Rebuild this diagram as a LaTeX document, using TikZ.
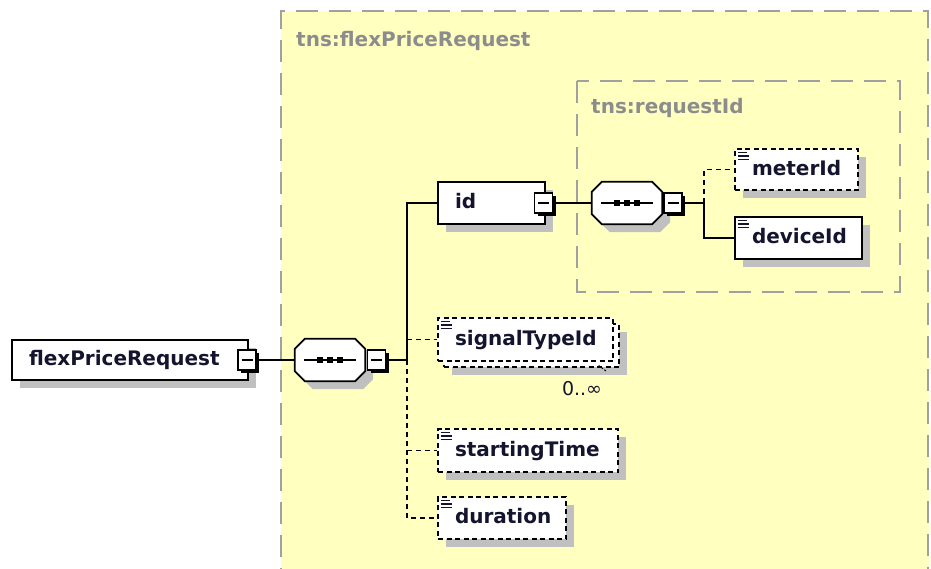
\documentclass[tikz,border=0pt]{standalone}
\usepackage{fontspec}
\setmainfont{DejaVu Sans}
\usetikzlibrary{shadows}
\definecolor{bgyellow}{HTML}{FFFFC0}
\definecolor{shadowgray}{HTML}{C0C0C0}
\definecolor{framegray}{HTML}{A0A0A0}
\definecolor{labelgray}{HTML}{8C8C8C}
\definecolor{inktext}{HTML}{14142E}
\tikzset{
  elembox/.style={draw=black, line width=1.8pt, fill=white, rectangle, inner xsep=17pt, inner ysep=0pt,
    align=left, text height=15pt, text depth=4pt, minimum height=42pt,
    font=\bfseries\fontsize{20}{24}\selectfont, text=inktext},
  boxshadow/.style={drop shadow={shadow xshift=8pt, shadow yshift=-8pt, fill=shadowgray, opacity=1}},
  optbox/.style={dash pattern=on 5pt off 3.5pt},
  minusbox/.style={draw=black, line width=1.6pt, fill=white, minimum width=18pt, minimum height=20pt, inner sep=0pt,
    drop shadow={shadow xshift=3pt, shadow yshift=-3pt, fill=black, opacity=1}},
  seqnode/.style={minimum width=70pt, minimum height=42pt, inner sep=0pt},
  conn/.style={line width=1.8pt, draw=black},
  optconn/.style={conn, dash pattern=on 5pt off 4pt},
  grouplabel/.style={inner sep=0pt, text=labelgray, font=\bfseries\fontsize{20}{24}\selectfont},
  cardlabel/.style={inner sep=0pt, text=inktext, font=\fontsize{19}{22}\selectfont},
  groupframe/.style={draw=framegray, line width=2.2pt, dash pattern=on 22pt off 11pt}
}
\newcommand\seqshape[1]{%
  \filldraw[fill=white, draw=black, line width=1.8pt,
    drop shadow={shadow xshift=8pt, shadow yshift=-8pt, fill=shadowgray, opacity=1}]
    ([xshift=10pt]#1.north west) -- ([xshift=-10pt]#1.north east) -- ([yshift=-10pt]#1.north east)
    -- ([yshift=10pt]#1.south east) -- ([xshift=-10pt]#1.south east) -- ([xshift=10pt]#1.south west)
    -- ([yshift=10pt]#1.south west) -- ([yshift=-10pt]#1.north west) -- cycle;
  \draw[line width=1.8pt] ([xshift=-26pt]#1.center) -- ([xshift=26pt]#1.center);
  \foreach \dd in {-10,0,10} {\fill ([xshift=\dd pt]#1.center) +(-2.8pt,-2.8pt) rectangle +(2.8pt,2.8pt);}
}
\newcommand\minusmark[1]{\draw[line width=1.6pt] ([xshift=-5.5pt]#1.center) -- ([xshift=5.5pt]#1.center);}
\newcommand\simpleicon[1]{%
  \foreach \yy/\ll in {4.5/9,8/11,11.5/11} {\draw[line width=1.5pt, inktext] ([xshift=3.5pt,yshift=-\yy pt]#1.north west) -- ++(\ll pt,0pt);}
}
\begin{document}
\begin{tikzpicture}[x=1pt,y=-1pt]
\useasboundingbox (0,0) rectangle (931,568);
\clip (0,0) rectangle (931,568);
\fill[white] (0,0) rectangle (931,568);
% outer group
\fill[bgyellow] (281,11) rectangle (929,590);
\draw[groupframe] (281,590) -- (281,11) -- (928,11) -- (928,590);
\node[grouplabel, anchor=west] (glabel) at (296,41) {tns:flexPriceRequest};
% inner group
\draw[groupframe] (577,81) rectangle (900,292);
\node[grouplabel, anchor=west] (rlabel) at (591,108) {tns:requestId};

% root
\node[elembox, boxshadow, minimum height=40pt, text width=202pt] (root) at (130,360) {flexPriceRequest};
\node[minusbox] (rootm) at (247,360) {};
\minusmark{rootm}

% sequence 1
\node[seqnode] (seq1) at (330,360) {};
\seqshape{seq1}
\node[minusbox] (seq1m) at (376.5,360) {};
\minusmark{seq1m}
\coordinate (bus1) at (407,360);

% id
\node[elembox, boxshadow, text width=73pt] (id) at (491.5,203) {id};
\node[minusbox] (idm) at (543.5,203) {};
\minusmark{idm}

% sequence 2
\node[seqnode] (seq2) at (627,203) {};
\seqshape{seq2}
\node[minusbox] (seq2m) at (673,203) {};
\minusmark{seq2m}
\coordinate (bus2) at (704,203);

\node[elembox, optbox, boxshadow, text width=89pt, minimum height=41pt] (meter) at (796.5,169.5) {meterId};
\simpleicon{meter}
\node[elembox, boxshadow, text width=93pt] (device) at (798.5,238) {deviceId};
\simpleicon{device}

% signalTypeId (multiple)
\node[elembox, optbox, boxshadow, minimum width=175pt, minimum height=43pt] (sigback) at (531.5,345.5) {};
\node[elembox, optbox, text width=141pt, minimum height=43pt] (sig) at (525.5,339.5) {signalTypeId};
\simpleicon{sig}
\node[cardlabel] (card) at (582,389) {0..∞};
\draw[line width=1pt, dash pattern=on 2pt off 1.5pt] ([xshift=-14pt,yshift=-3pt]sigback.south east) -- ([xshift=-22pt,yshift=3pt]sigback.south east);

\node[elembox, optbox, boxshadow, text width=146pt, minimum height=43pt] (start) at (528,450.5) {startingTime};
\simpleicon{start}
\node[elembox, optbox, boxshadow, text width=94pt] (dur) at (502,518) {duration};
\simpleicon{dur}

% connectors
\draw[conn] (rootm.east) -- (seq1.west);
\draw[conn] (seq1m.east) -- (bus1);
\draw[conn] (bus1) |- (id.west);
\draw[optconn] (bus1) -- (bus1 |- dur.west) -- (dur.west);
\draw[optconn] (bus1 |- sig.west) -- (sig.west);
\draw[optconn] (bus1 |- start.west) -- (start.west);
\draw[conn] (idm.east) -- (seq2.west);
\draw[conn] (seq2m.east) -- (bus2);
\draw[optconn] (bus2) |- (meter.west);
\draw[conn] (bus2) |- (device.west);
\end{tikzpicture}
\end{document}
